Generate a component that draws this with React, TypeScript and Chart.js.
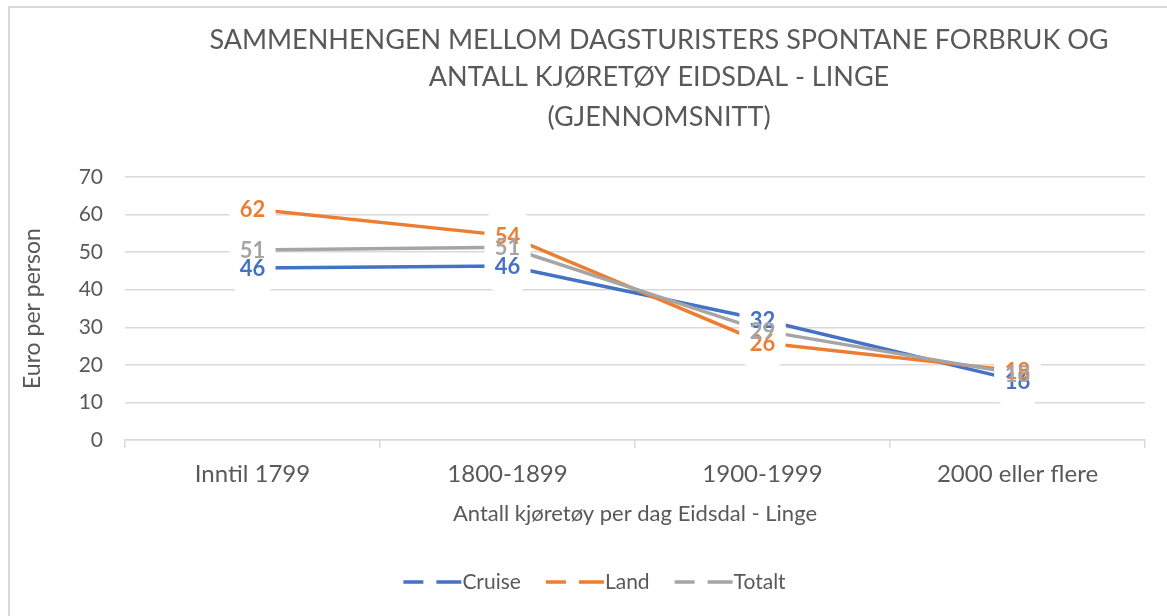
import React, { useEffect, useRef } from 'react';
import { Chart, registerables } from 'chart.js';

Chart.register(...registerables);

// ---- data ----
const categories = ['Inntil 1799', '1800-1899', '1900-1999', '2000 eller flere'];
const cruiseValues = [45.8, 46.3, 32.0, 15.8];
const landValues = [61.5, 54.4, 25.9, 18.4];
const totaltValues = [50.6, 51.3, 29.1, 17.6];
const seriesNames = ['Cruise', 'Land', 'Totalt'];
const seriesColors = ['#4472C4', '#ED7D31', '#A5A5A5'];
const titleLines = [
  'SAMMENHENGEN MELLOM DAGSTURISTERS SPONTANE FORBRUK OG',
  'ANTALL KJØRETØY EIDSDAL - LINGE',
  '(GJENNOMSNITT)',
];
const xAxisTitle = 'Antall kjøretøy per dag Eidsdal - Linge';
const yAxisTitle = 'Euro per person';
const yMin = 0;
const yMax = 70;
const yStep = 10;

const FONT = 'Lato, "Open Sans", sans-serif';
const TEXT = '#595959';
const GRID = '#D9D9D9';

const seriesValues = [cruiseValues, landValues, totaltValues];

const framePlugin = {
  id: 'frame',
  beforeDraw(chart: any) {
    const ctx = chart.ctx;
    ctx.save();
    ctx.fillStyle = '#ffffff';
    ctx.fillRect(0, 0, chart.width, chart.height);
    ctx.fillStyle = GRID;
    ctx.fillRect(8, 6, 2, chart.height);
    ctx.fillRect(8, 6, chart.width, 2);
    ctx.restore();
  },
};

const titlePlugin = {
  id: 'customTitle',
  afterDraw(chart: any) {
    const ctx = chart.ctx;
    ctx.save();
    ctx.fillStyle = TEXT;
    ctx.font = `27px ${FONT}`;
    ctx.textAlign = 'center';
    ctx.textBaseline = 'middle';
    const ys = [40, 77, 117];
    titleLines.forEach((t, i) => ctx.fillText(t, 659, ys[i]));
    ctx.restore();
  },
};

const labelPlugin = {
  id: 'pointLabels',
  afterDatasetsDraw(chart: any) {
    const ctx = chart.ctx;
    ctx.save();
    ctx.fillStyle = '#ffffff';
    seriesValues.forEach((_, si) => {
      const meta = chart.getDatasetMeta(si);
      meta.data.forEach((pt: any) => {
        ctx.beginPath();
        ctx.roundRect(pt.x - 23, pt.y - 26, 46, 52, 16);
        ctx.fill();
      });
    });
    ctx.font = `bold 22px ${FONT}`;
    ctx.textAlign = 'center';
    ctx.textBaseline = 'middle';
    seriesValues.forEach((vals, si) => {
      const meta = chart.getDatasetMeta(si);
      ctx.fillStyle = seriesColors[si];
      meta.data.forEach((pt: any, j: number) => {
        ctx.fillText(String(Math.round(vals[j])), pt.x, pt.y + 1);
      });
    });
    ctx.restore();
  },
};

const legendPlugin = {
  id: 'customLegend',
  afterDraw(chart: any) {
    const ctx = chart.ctx;
    ctx.save();
    ctx.font = `21px ${FONT}`;
    const sym = 59;
    const gap = 24;
    const widths = seriesNames.map((n) => ctx.measureText(n).width);
    const total = widths.reduce((a, w) => a + sym + 1 + w, 0) + gap * (seriesNames.length - 1);
    let x = 594 - total / 2;
    const y = 582;
    seriesNames.forEach((name, i) => {
      ctx.strokeStyle = seriesColors[i];
      ctx.lineWidth = 3.5;
      ctx.lineCap = 'butt';
      ctx.beginPath();
      ctx.moveTo(x + 1, y);
      ctx.lineTo(x + 21, y);
      ctx.moveTo(x + 34, y);
      ctx.lineTo(x + sym, y);
      ctx.stroke();
      ctx.fillStyle = TEXT;
      ctx.textAlign = 'left';
      ctx.textBaseline = 'middle';
      ctx.fillText(name, x + sym + 1, y);
      x += sym + 1 + widths[i] + gap;
    });
    ctx.restore();
  },
};

export default function App() {
  const canvasRef = useRef<HTMLCanvasElement | null>(null);

  useEffect(() => {
    if (!canvasRef.current) return;
    const chart = new Chart(canvasRef.current, {
      type: 'line',
      data: {
        labels: categories,
        datasets: seriesNames.map((name, i) => ({
          label: name,
          data: seriesValues[i],
          borderColor: seriesColors[i],
          backgroundColor: seriesColors[i],
          borderWidth: 3.5,
          pointRadius: 0,
          pointHoverRadius: 0,
          tension: 0,
          fill: false,
          order: 2 - i,
        })),
      },
      options: {
        responsive: false,
        animation: false,
        layout: { padding: { top: 177, right: 22, bottom: 86, left: 0 } },
        plugins: {
          legend: { display: false },
          title: { display: false },
          tooltip: { enabled: false },
        },
        scales: {
          x: {
            type: 'category',
            offset: true,
            grid: {
              display: true,
              offset: true,
              drawOnChartArea: false,
              drawTicks: true,
              tickLength: 8,
              color: GRID,
              lineWidth: 1.5,
            },
            border: { display: true, color: GRID, width: 1.5 },
            ticks: {
              color: TEXT,
              font: { family: FONT, size: 24 },
              padding: 12,
              maxRotation: 0,
            },
            title: {
              display: true,
              text: xAxisTitle,
              color: TEXT,
              font: { family: FONT, size: 22 },
              padding: { top: 0, bottom: 3 },
            },
            afterFit(scale: any) {
              scale.height = 90;
            },
          },
          y: {
            min: yMin,
            max: yMax,
            ticks: {
              stepSize: yStep,
              color: TEXT,
              font: { family: FONT, size: 21 },
              padding: 22,
            },
            grid: {
              color: GRID,
              lineWidth: 1.5,
              drawTicks: false,
            },
            border: { display: false },
            title: {
              display: true,
              text: yAxisTitle,
              color: TEXT,
              font: { family: FONT, size: 23 },
              padding: { top: 19, bottom: 0 },
            },
            afterFit(scale: any) {
              scale.width = 125;
            },
          },
        },
      },
      plugins: [framePlugin, labelPlugin, titlePlugin, legendPlugin],
    });
    return () => chart.destroy();
  }, []);

  return (
    <div style={{ position: 'absolute', left: 0, top: 0, width: 1167, height: 616 }}>
      <canvas ref={canvasRef} width={1167} height={616} />
    </div>
  );
}
